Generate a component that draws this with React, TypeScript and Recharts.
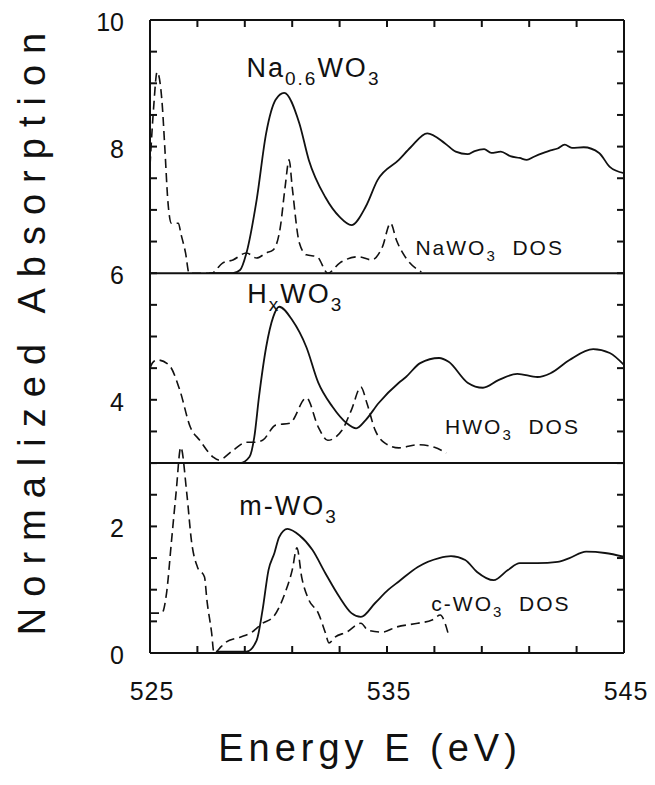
import React from 'react';
import { LineChart, Line, XAxis, YAxis, ReferenceLine, ReferenceDot } from 'recharts';

// ---- Na0.6WO3 experiment (offset +6) ----
const naExpE = [527.5, 528.5, 528.8, 529.07, 529.5, 529.9, 530.3, 530.66, 531.3, 531.7, 532.4, 533.0, 533.5, 534.1, 534.6, 535.5, 536.0, 536.7, 537.45, 537.9, 538.4, 538.7, 539.1, 539.4, 539.8, 540.2, 540.6, 540.9, 541.2, 541.6, 541.9, 542.2, 542.5, 542.8, 543.3, 543.95, 544.4, 545.0];
const naExpV = [6.0, 6.0, 6.05, 6.32, 7.16, 8.21, 8.74, 8.85, 8.37, 7.79, 7.2, 6.89, 6.76, 7.05, 7.47, 7.79, 7.99, 8.21, 8.05, 7.92, 7.88, 7.93, 7.96, 7.9, 7.92, 7.85, 7.82, 7.79, 7.84, 7.9, 7.94, 7.97, 8.03, 7.98, 7.99, 7.9, 7.68, 7.58];

// ---- NaWO3 DOS (offset +6) ----
const naDosE = [525.0, 525.15, 525.3, 525.5, 525.63, 525.75, 525.9, 526.2, 526.3, 526.5, 526.65, 527.6, 528.06, 528.5, 529.07, 529.5, 529.9, 530.2, 530.5, 530.7, 530.87, 531.0, 531.3, 531.6, 532.05, 532.5, 533.0, 533.8, 534.35, 534.8, 535.15, 535.4, 535.8, 536.45];
const naDosV = [7.7, 8.6, 9.18, 8.74, 7.95, 7.16, 6.79, 6.79, 6.63, 6.32, 6.0, 6.0, 6.16, 6.21, 6.32, 6.24, 6.32, 6.37, 6.73, 7.36, 7.79, 7.36, 6.48, 6.29, 6.26, 6.0, 6.16, 6.26, 6.21, 6.41, 6.79, 6.52, 6.24, 6.02];

// ---- HxWO3 experiment (offset +3) ----
const hxExpE = [527.5, 528.8, 529.2, 529.4, 529.6, 529.9, 530.2, 530.45, 531.0, 531.6, 532.1, 532.7, 533.3, 533.7, 534.1, 534.65, 535.5, 535.8, 536.4, 537.2, 537.6, 538.4, 539.05, 539.7, 540.5, 541.35, 541.9, 542.7, 543.7, 544.4, 545.0];
const hxExpV = [3.0, 3.0, 3.1, 3.41, 4.05, 4.83, 5.31, 5.47, 5.26, 4.83, 4.27, 3.89, 3.63, 3.55, 3.68, 3.95, 4.27, 4.36, 4.58, 4.66, 4.6, 4.27, 4.19, 4.31, 4.41, 4.36, 4.42, 4.63, 4.8, 4.74, 4.55];

// ---- HWO3 DOS (offset +3) ----
const hxDosE = [525.0, 525.1, 525.3, 525.8, 526.26, 526.7, 527.1, 527.65, 527.9, 528.5, 529.07, 529.4, 529.75, 530.3, 530.9, 531.6, 532.1, 532.5, 533.1, 533.5, 533.9, 534.15, 534.5, 534.9, 535.5, 536.3, 537.0, 537.5];
const hxDosV = [4.5, 4.58, 4.63, 4.55, 4.15, 3.57, 3.36, 3.1, 3.05, 3.2, 3.33, 3.33, 3.36, 3.6, 3.63, 4.03, 3.57, 3.36, 3.52, 3.84, 4.2, 3.95, 3.52, 3.32, 3.24, 3.29, 3.25, 3.16];

// ---- m-WO3 experiment ----
const mExpE = [527.8, 529.07, 529.5, 529.75, 530.0, 530.25, 530.45, 530.8, 531.3, 531.85, 532.4, 533.0, 533.5, 533.9, 534.5, 535.06, 535.5, 536.3, 537.2, 537.7, 538.3, 538.8, 539.5, 540.1, 540.6, 541.35, 542.2, 542.7, 543.4, 544.2, 545.0];
const mExpV = [0.02, 0.02, 0.2, 0.68, 1.31, 1.58, 1.83, 1.96, 1.86, 1.63, 1.26, 0.88, 0.63, 0.57, 0.79, 1.0, 1.13, 1.36, 1.5, 1.53, 1.47, 1.28, 1.15, 1.31, 1.42, 1.42, 1.44, 1.5, 1.6, 1.58, 1.52];

// ---- c-WO3 DOS ----
const cDosE = [525.0, 525.5, 525.7, 525.9, 526.1, 526.3, 526.55, 526.76, 527.0, 527.3, 527.4, 527.6, 527.7, 528.0, 528.2, 528.8, 529.3, 529.75, 530.2, 530.7, 531.0, 531.2, 531.4, 531.7, 532.1, 532.4, 532.55, 532.8, 533.3, 533.9, 534.2, 534.8, 535.4, 536.3, 536.9, 537.25, 537.45, 537.6];
const cDosV = [0.63, 0.63, 0.95, 1.74, 2.53, 3.25, 2.53, 1.74, 1.36, 1.2, 0.84, 0.32, 0.0, 0.1, 0.17, 0.25, 0.33, 0.47, 0.57, 0.95, 1.31, 1.66, 1.2, 0.84, 0.63, 0.32, 0.16, 0.25, 0.33, 0.47, 0.36, 0.33, 0.41, 0.47, 0.52, 0.6, 0.47, 0.28];

// ---- axes ----
const xTicks = [525, 527, 529, 531, 533, 535, 537, 539, 541, 543, 545];
const xTickLabels = [525, 535, 545];
const yTicks = [0, 0.5, 1, 1.5, 2, 2.5, 3, 3.5, 4, 4.5, 5, 5.5, 6, 6.5, 7, 7.5, 8, 8.5, 9, 9.5, 10];
const yTickLabels = [0, 2, 4, 6, 8, 10];
const baselines = [6, 3];

// ---- annotations: [text, isSubscript][] ----
const annotations = [
  { e: 529.07, v: 9.1, size: 27, parts: [['Na', false], ['0.6', true], ['WO', false], ['3', true]] },
  { e: 536.2, v: 6.29, size: 21, parts: [['NaWO', false], ['3', true], ['  DOS', false]] },
  { e: 529.1, v: 5.53, size: 27, parts: [['H', false], ['x', true], ['WO', false], ['3', true]] },
  { e: 537.45, v: 3.46, size: 21, parts: [['HWO', false], ['3', true], ['  DOS', false]] },
  { e: 528.77, v: 2.18, size: 27, parts: [['m-WO', false], ['3', true]] },
  { e: 536.87, v: 0.66, size: 21, parts: [['c-WO', false], ['3', true], ['  DOS', false]] },
];

const zip = (es: number[], vs: number[]) => es.map((e, i) => ({ e, v: vs[i] }));
const series = [
  { data: zip(naExpE, naExpV), dashed: false },
  { data: zip(naDosE, naDosV), dashed: true },
  { data: zip(hxExpE, hxExpV), dashed: false },
  { data: zip(hxDosE, hxDosV), dashed: true },
  { data: zip(mExpE, mExpV), dashed: false },
  { data: zip(cDosE, cDosV), dashed: true },
];

const FONT = '"Liberation Sans", Arial, Helvetica, sans-serif';
const INK = '#111';
const TICK = 7;
const TW = 2;

function Annot({ cx, cy, a }: any) {
  const sub = Math.round(a.size * 0.72);
  const shift = Math.round(a.size * 0.28);
  let cur = 0;
  const spans = a.parts.map((p: any, i: number) => {
    const target = p[1] ? shift : 0;
    const dy = target - cur;
    cur = target;
    return (
      <tspan key={i} dy={dy} fontSize={p[1] ? sub : a.size}>
        {p[0]}
      </tspan>
    );
  });
  return (
    <text x={cx} y={cy} fill={INK} fontFamily={FONT} fontSize={a.size} style={{ whiteSpace: 'pre' }} letterSpacing={2}>
      {spans}
    </text>
  );
}

function BottomTick(p: any) {
  const v = p.payload.value;
  return (
    <g>
      <line x1={p.x} x2={p.x} y1={p.y} y2={p.y - TICK} stroke={INK} strokeWidth={TW} />
      {xTickLabels.includes(v) && (
        <text x={p.x + 2} y={p.y + 47} textAnchor="middle" fill={INK} fontFamily={FONT} fontSize={25} letterSpacing={1}>
          {v}
        </text>
      )}
    </g>
  );
}
function TopTick(p: any) {
  return (
    <g>
      <line x1={p.x} x2={p.x} y1={p.y} y2={p.y + TICK} stroke={INK} strokeWidth={TW} />
    </g>
  );
}
function LeftTick(p: any) {
  const v = p.payload.value;
  return (
    <g>
      <line x1={p.x} x2={p.x + TICK} y1={p.y} y2={p.y} stroke={INK} strokeWidth={TW} />
      {yTickLabels.includes(v) && (
        <text x={p.x - 26} y={p.y + 11} textAnchor="end" fill={INK} fontFamily={FONT} fontSize={25}>
          {v}
        </text>
      )}
    </g>
  );
}
function RightTick(p: any) {
  return (
    <g>
      <line x1={p.x} x2={p.x - TICK} y1={p.y} y2={p.y} stroke={INK} strokeWidth={TW} />
    </g>
  );
}

export default function App() {
  return (
    <LineChart width={639} height={768} margin={{ top: 11, right: 22, left: 0, bottom: 0 }}>
      <XAxis
        dataKey="e"
        type="number"
        domain={[525, 545]}
        ticks={xTicks}
        allowDataOverflow
        height={123}
        stroke={INK}
        strokeWidth={2}
        tickLine={false}
        tickSize={0}
        tickMargin={0}
        tick={(p: any) => <BottomTick {...p} />}
        label={{
          content: (p: any) => {
            const vb = p.viewBox;
            return (
              <text x={vb.x + vb.width / 2 - 17} y={vb.y + 108} textAnchor="middle" fill={INK} fontFamily={FONT} fontSize={38} letterSpacing={5}>
                Energy E (eV)
              </text>
            );
          },
        }}
      />
      <XAxis
        xAxisId="top"
        orientation="top"
        dataKey="e"
        type="number"
        domain={[525, 545]}
        ticks={xTicks}
        allowDataOverflow
        height={1}
        stroke={INK}
        strokeWidth={2}
        tickLine={false}
        tickSize={0}
        tickMargin={0}
        tick={(p: any) => <TopTick {...p} />}
      />
      <YAxis
        type="number"
        domain={[0, 10]}
        ticks={yTicks}
        allowDataOverflow
        width={142}
        stroke={INK}
        strokeWidth={2}
        tickLine={false}
        tickSize={0}
        tickMargin={0}
        tick={(p: any) => <LeftTick {...p} />}
        label={{
          content: (p: any) => {
            const vb = p.viewBox;
            const cx = vb.x + 37;
            const cy = vb.y + vb.height / 2 - 8;
            return (
              <text x={cx} y={cy} transform={`rotate(-90, ${cx}, ${cy})`} textAnchor="middle" fill={INK} fontFamily={FONT} fontSize={38} letterSpacing={11}>
                Normalized Absorption
              </text>
            );
          },
        }}
      />
      <YAxis
        yAxisId="right"
        orientation="right"
        type="number"
        domain={[0, 10]}
        ticks={yTicks}
        allowDataOverflow
        width={1}
        stroke={INK}
        strokeWidth={2}
        tickLine={false}
        tickSize={0}
        tickMargin={0}
        tick={(p: any) => <RightTick {...p} />}
      />
      {baselines.map((b) => (
        <ReferenceLine key={b} y={b} stroke={INK} strokeWidth={2} />
      ))}
      {series.map((s, i) => (
        <Line
          key={i}
          data={s.data}
          dataKey="v"
          type="monotone"
          stroke={INK}
          strokeWidth={s.dashed ? 1.6 : 1.8}
          strokeDasharray={s.dashed ? '9 5' : undefined}
          dot={false}
          activeDot={false}
          isAnimationActive={false}
        />
      ))}
      {annotations.map((a, i) => (
        <ReferenceDot key={i} x={a.e} y={a.v} r={0} ifOverflow="visible" shape={(p: any) => <Annot cx={p.cx} cy={p.cy} a={a} />} />
      ))}
    </LineChart>
  );
}
